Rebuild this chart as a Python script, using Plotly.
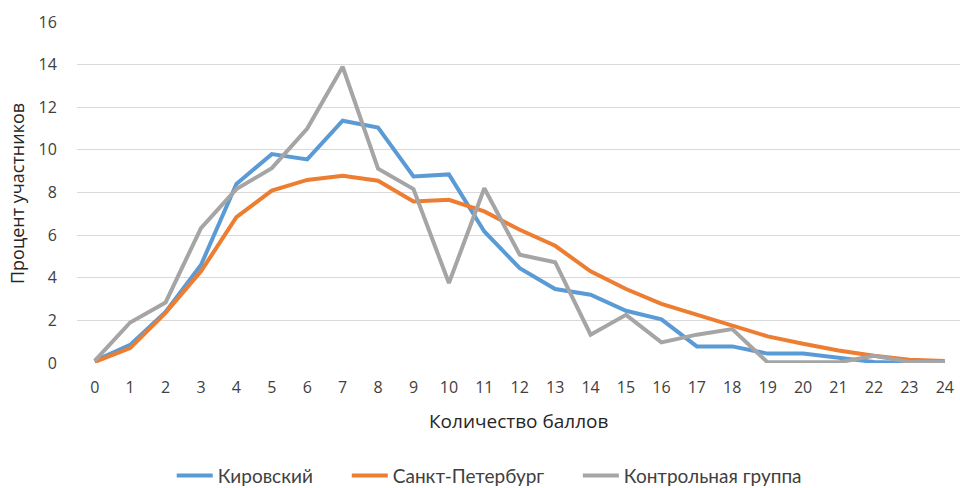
import plotly.graph_objects as go

scores = list(range(25))
kirovsky = [0.1, 0.85, 2.4, 4.6, 8.4, 9.8, 9.55, 11.37, 11.05, 8.75, 8.85, 6.17, 4.45, 3.47, 3.2, 2.45, 2.05, 0.78, 0.78, 0.44, 0.44, 0.23, 0.05, 0.0, 0.0]
spb = [0.05, 0.7, 2.35, 4.3, 6.84, 8.09, 8.59, 8.78, 8.55, 7.58, 7.66, 7.11, 6.25, 5.5, 4.3, 3.47, 2.77, 2.26, 1.75, 1.25, 0.9, 0.59, 0.34, 0.15, 0.09]
control = [0.1, 1.9, 2.84, 6.33, 8.16, 9.14, 11.0, 13.9, 9.12, 8.16, 3.75, 8.2, 5.08, 4.73, 1.33, 2.26, 0.97, 1.33, 1.59, 0.03, 0.03, 0.03, 0.34, 0.05, 0.05]

series_names = ["Кировский", "Санкт-Петербург", "Контрольная группа"]
colors = ["#5B9BD5", "#ED7D31", "#A5A5A5"]
x_title = "Количество баллов"
y_title = "Процент участников"
y_ticks = [0, 2, 4, 6, 8, 10, 12, 14, 16]

narrow_font = "Liberation Sans Narrow, Lato, sans-serif"
text_color = "#404040"

L, T, B = 77.3, 22, 124.7
PW, PH = 960 - L, 488 - T - B

legend_ids = ["legend", "legend2", "legend3"]
legend_px = [178, 353, 584]  # left edge of each legend line sample

fig = go.Figure()
for name, vals, col, lid in zip(series_names, [kirovsky, spb, control], colors, legend_ids):
    fig.add_trace(go.Scatter(
        x=scores, y=vals, mode="lines", name=name, legend=lid,
        line=dict(color=col, width=4, shape="linear"),
    ))

legend_common = dict(orientation="h", xanchor="left", y=(363.3 - 476) / PH, yanchor="middle",
                     font=dict(family=narrow_font, size=19, color=text_color),
                     itemwidth=36, bgcolor="rgba(0,0,0,0)")

fig.update_layout(
    width=960, height=488,
    margin=dict(l=L, r=0, t=T, b=B, autoexpand=False),
    paper_bgcolor="white", plot_bgcolor="white",
    font=dict(family="Open Sans", size=16, color=text_color),
    showlegend=True,
    legend=dict(x=(legend_px[0] - 6 - L) / PW, **legend_common),
    legend2=dict(x=(legend_px[1] - 6 - L) / PW, **legend_common),
    legend3=dict(x=(legend_px[2] - 6 - L) / PW, **legend_common),
    xaxis=dict(
        range=[-0.5, 24.43], tickmode="array", tickvals=scores,
        ticktext=[str(s) for s in scores],
        showgrid=False, zeroline=False, showline=False,
        ticks="outside", ticklen=10, tickcolor="rgba(0,0,0,0)",
        tickfont=dict(family="Open Sans", size=16, color=text_color),
        fixedrange=True,
    ),
    yaxis=dict(
        range=[0, 16], tickmode="array", tickvals=y_ticks,
        showgrid=True, gridcolor="#D9D9D9", gridwidth=1.3,
        zeroline=False, showline=False,
        ticks="outside", ticklen=16, tickcolor="rgba(0,0,0,0)",
        tickfont=dict(family="Open Sans", size=16, color=text_color),
        fixedrange=True,
    ),
    annotations=[
        dict(text=x_title, xref="paper", yref="paper", x=(519 - L) / PW, y=(363.3 - 421) / PH,
             xanchor="center", yanchor="middle", showarrow=False,
             font=dict(family="Open Sans", size=19, color="#262626")),
        dict(text=y_title, xref="paper", yref="paper", x=(18 - L) / PW, y=(363.3 - 193.5) / PH,
             xanchor="center", yanchor="middle", showarrow=False, textangle=-90,
             font=dict(family="Open Sans", size=18, color="#262626")),
    ],
)

fig.write_html("out.html", config={"displayModeBar": False},
               post_script="document.body.style.margin='0';")
